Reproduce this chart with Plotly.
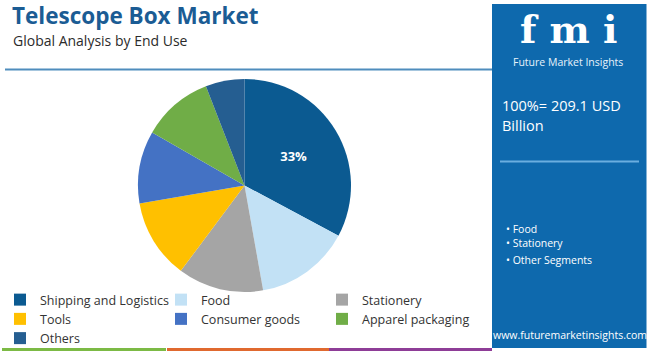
import plotly.graph_objects as go

W, H = 650, 352
ML, MR = 0, 160          # plot area = left 490 px; right panel drawn in paper coords > 1
PW = W - ML - MR

labels = ["Shipping and Logistics", "Food", "Stationery", "Tools",
          "Consumer goods", "Apparel packaging", "Others"]
shares = [32.8, 14.4, 13.0, 12.1, 11.0, 10.8, 5.9]
slice_text = ["33%", "", "", "", "", "", ""]
colors = ["#0b5a91", "#c2e1f5", "#a5a5a5", "#ffc000", "#4472c4", "#70ad47", "#255e91"]

title = "Telescope Box Market"
subtitle = "Global Analysis by End Use"
total_lines = ["100%= 209.1 USD", "Billion"]
bullets = ["• Food", "• Stationery", "• Other Segments"]
website = "www.futuremarketinsights.com"


def px(x):
    return (x - ML) / PW


def py(y):
    return 1 - y / H


FONT = "Open Sans"

fig = go.Figure()
fig.add_trace(go.Pie(
    labels=labels, values=shares, text=slice_text,
    texttemplate="<b>%{text}</b>",
    sort=False, direction="clockwise", rotation=0,
    marker=dict(colors=colors, line=dict(width=0)),
    textfont=dict(color="white", size=13, family=FONT),
    insidetextfont=dict(color="white", size=13, family=FONT),
    textposition="inside",
    hoverinfo="label+percent",
    domain=dict(x=[px(137), px(352)], y=[py(292), py(79)]),
))

shapes = [
    dict(type="line", xref="paper", yref="paper", x0=px(5), x1=px(492), y0=py(69.5), y1=py(69.5),
         line=dict(color="#4f8dbd", width=2)),
    dict(type="rect", xref="paper", yref="paper", x0=px(492), x1=px(646.5), y0=py(348), y1=py(4),
         fillcolor="#0e69ad", line=dict(width=0), layer="below"),
    dict(type="line", xref="paper", yref="paper", x0=px(500), x1=px(639), y0=py(161.5), y1=py(161.5),
         line=dict(color="#6aaee0", width=2)),
    dict(type="line", xref="paper", yref="paper", x0=px(2), x1=px(166), y0=py(349.5), y1=py(349.5),
         line=dict(color="#7cba45", width=3)),
    dict(type="line", xref="paper", yref="paper", x0=px(167), x1=px(329), y0=py(349.5), y1=py(349.5),
         line=dict(color="#e0692f", width=3)),
    dict(type="line", xref="paper", yref="paper", x0=px(329), x1=px(492), y0=py(349.5), y1=py(349.5),
         line=dict(color="#8e3d97", width=3)),
]

annotations = [
    dict(text="<b>" + title + "</b>", x=px(10), y=py(16), xanchor="left", yanchor="middle",
         font=dict(size=22.5, color="#1b5c94", family=FONT)),
    dict(text=subtitle, x=px(11), y=py(41), xanchor="left", yanchor="middle",
         font=dict(size=14, color="#2b2b2b", family=FONT)),
    dict(text="<b>f m i</b>", x=px(568), y=py(29), xanchor="center", yanchor="middle",
         font=dict(size=38, color="white", family="DejaVu Serif")),
    dict(text="Future Market Insights", x=px(568), y=py(62), xanchor="center", yanchor="middle",
         font=dict(size=10.5, color="#e8f2fb", family=FONT)),
    dict(text=total_lines[0], x=px(500), y=py(105), xanchor="left", yanchor="middle",
         font=dict(size=14.5, color="white", family=FONT)),
    dict(text=total_lines[1], x=px(500), y=py(126), xanchor="left", yanchor="middle",
         font=dict(size=14.5, color="white", family=FONT)),
    dict(text=bullets[0], x=px(504), y=py(229), xanchor="left", yanchor="middle",
         font=dict(size=10.5, color="white", family=FONT)),
    dict(text=bullets[1], x=px(504), y=py(243), xanchor="left", yanchor="middle",
         font=dict(size=10.5, color="white", family=FONT)),
    dict(text=bullets[2], x=px(504), y=py(260), xanchor="left", yanchor="middle",
         font=dict(size=10.5, color="white", family=FONT)),
    dict(text=website, x=px(570), y=py(335), xanchor="center", yanchor="middle",
         font=dict(size=10.5, color="white", family=FONT)),
]
for a in annotations:
    a.update(xref="paper", yref="paper", showarrow=False)

fig.update_layout(
    width=W, height=H,
    margin=dict(l=ML, r=MR, t=0, b=0, autoexpand=False),
    paper_bgcolor="white", plot_bgcolor="white",
    shapes=shapes, annotations=annotations,
    showlegend=True,
    legend=dict(orientation="h", x=0, y=py(285), xanchor="left", yanchor="top",
                font=dict(size=12.5, color="#333333", family=FONT),
                entrywidth=116, entrywidthmode="pixels",
                itemwidth=30, tracegroupgap=0, traceorder="normal",
                bgcolor="rgba(0,0,0,0)"),
)

fig.write_html("out.html")
